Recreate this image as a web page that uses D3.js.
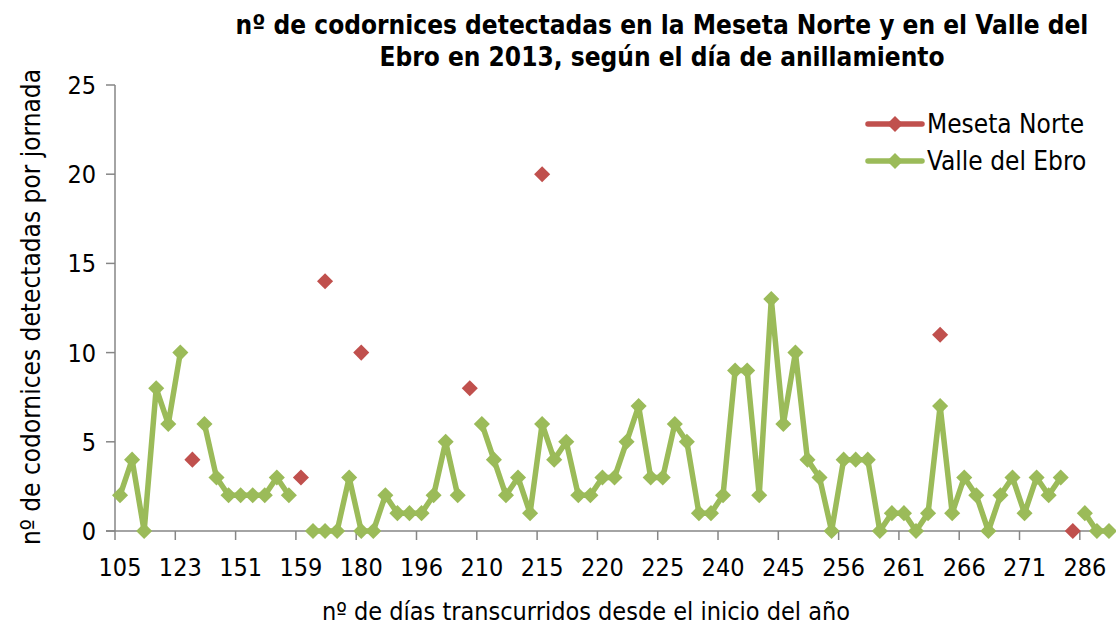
<!DOCTYPE html>
<head>
	<meta charset="utf-8">
	<title>codornices 2013</title>
<style>
	body {
		margin:0;
		background:#ffffff;
		font-family: "DejaVu Sans Condensed", "DejaVu Sans", sans-serif;
	}
	.axis line, .axis path { stroke:#868686; stroke-width:1.5px; fill:none; }
	.ticklab { font-size:25px; fill:#000; }
</style>
</head>
<script src="https://cdn.jsdelivr.net/npm/d3@7"></script>
<body>
<script>
	var width = 1116;
	var height = 630;

	// etiquetas del eje x (una cada 5 jornadas)
	var tickLabels = ["105","123","151","159","180","196","210","215","220","225","240","245","256","261","266","271","286"];

	// Meseta Norte (solo algunas jornadas)
	var meseta = [null,null,null,null,null,null,4,null,null,null,
		null,null,null,null,null,3,null,14,null,null,
		10,null,null,null,null,null,null,null,null,8,
		null,null,null,null,null,20,null,null,null,null,
		null,null,null,null,null,null,null,null,null,null,
		null,null,null,null,null,null,null,null,null,null,
		null,null,null,null,null,null,null,null,11,null,
		null,null,null,null,null,null,null,null,null,0,
		null,null,null];

	// Valle del Ebro
	var ebro = [2,4,0,8,6,10,null,6,3,2,
		2,2,2,3,2,null,0,0,0,3,
		0,0,2,1,1,1,2,5,2,null,
		6,4,2,3,1,6,4,5,2,2,
		3,3,5,7,3,3,6,5,1,1,
		2,9,9,2,13,6,10,4,3,0,
		4,4,4,0,1,1,0,1,7,1,
		3,2,0,2,3,1,3,2,3,null,
		1,0,0];

	var yTicks = [0,5,10,15,20,25];

	var svg = d3.select("body").append("svg")
		.attr("width", width)
		.attr("height", height);

	var x = d3.scaleBand()
		.domain(d3.range(ebro.length))
		.range([114, 1115])
		.padding(0);

	var y = d3.scaleLinear()
		.domain([0, 25])
		.range([531, 85]);

	var cx = function(i) { return x(i) + x.bandwidth() / 2; };

	// eje y
	var yAxis = svg.append("g").attr("class", "axis");
	yAxis.append("line")
		.attr("x1", 115).attr("x2", 115)
		.attr("y1", y(25)).attr("y2", y(0));
	yAxis.selectAll("line.t")
		.data(yTicks)
		.enter().append("line")
		.attr("class", "t")
		.attr("x1", 106).attr("x2", 115)
		.attr("y1", function(d) { return y(d); })
		.attr("y2", function(d) { return y(d); });
	yAxis.selectAll("text")
		.data(yTicks)
		.enter().append("text")
		.attr("class", "ticklab")
		.attr("x", 96)
		.attr("y", function(d) { return y(d); })
		.attr("dy", "0.36em")
		.attr("text-anchor", "end")
		.text(function(d) { return d; });

	// eje x
	var xAxis = svg.append("g").attr("class", "axis");
	xAxis.append("line")
		.attr("x1", 106).attr("x2", 1115)
		.attr("y1", y(0)).attr("y2", y(0));
	var tickIdx = tickLabels.map(function(d, i) { return i * 5; });
	xAxis.selectAll("line.t")
		.data(tickIdx)
		.enter().append("line")
		.attr("class", "t")
		.attr("x1", function(d) { return x(d) + 1; })
		.attr("x2", function(d) { return x(d) + 1; })
		.attr("y1", y(0)).attr("y2", y(0) + 9);
	xAxis.selectAll("text")
		.data(tickIdx)
		.enter().append("text")
		.attr("class", "ticklab")
		.attr("x", function(d) { return cx(d); })
		.attr("y", 576)
		.attr("text-anchor", "middle")
		.text(function(d, i) { return tickLabels[i]; });

	// serie Valle del Ebro
	var line = d3.line()
		.defined(function(d) { return d != null; })
		.x(function(d, i) { return cx(i); })
		.y(function(d) { return y(d); });

	svg.append("path")
		.datum(ebro)
		.attr("d", line)
		.style("fill", "none")
		.style("stroke", "#9bbb59")
		.style("stroke-width", 5.5)
		.style("stroke-linejoin", "round");

	var diamond = d3.symbol().type(d3.symbolDiamond2).size(165);

	svg.append("g").selectAll("path")
		.data(ebro.map(function(d, i) { return {v: d, i: i}; }).filter(function(d) { return d.v != null; }))
		.enter().append("path")
		.attr("d", diamond)
		.attr("transform", function(d) { return "translate(" + cx(d.i) + "," + y(d.v) + ")"; })
		.style("fill", "#9bbb59");

	// serie Meseta Norte
	svg.append("g").selectAll("path")
		.data(meseta.map(function(d, i) { return {v: d, i: i}; }).filter(function(d) { return d.v != null; }))
		.enter().append("path")
		.attr("d", diamond)
		.attr("transform", function(d) { return "translate(" + cx(d.i) + "," + y(d.v) + ")"; })
		.style("fill", "#c0504d");

	// leyenda
	var legend = svg.append("g");
	var series = [{name:"Meseta Norte", color:"#c0504d"}, {name:"Valle del Ebro", color:"#9bbb59"}];
	var lg = legend.selectAll("g")
		.data(series)
		.enter().append("g")
		.attr("transform", function(d, i) { return "translate(0," + (124 + i * 37) + ")"; });
	lg.append("line")
		.attr("x1", 868).attr("x2", 922)
		.style("stroke", function(d) { return d.color; })
		.style("stroke-width", 5.5)
		.style("stroke-linecap", "round");
	lg.append("path")
		.attr("d", diamond)
		.attr("transform", "translate(895,0)")
		.style("fill", function(d) { return d.color; });
	lg.append("text")
		.attr("x", 927)
		.attr("dy", "0.36em")
		.style("font-size", "26px")
		.text(function(d) { return d.name; });

	// titulos
	var title = svg.append("text")
		.attr("text-anchor", "middle")
		.style("font-size", "26px")
		.style("font-weight", "bold");
	title.append("tspan").attr("x", 662).attr("y", 34)
		.text("nº de codornices detectadas en la Meseta Norte y en el Valle del");
	title.append("tspan").attr("x", 662).attr("y", 66)
		.text("Ebro en 2013, según el día de anillamiento");

	svg.append("text")
		.attr("x", 586)
		.attr("y", 620)
		.attr("text-anchor", "middle")
		.style("font-size", "25px")
		.text("nº de días transcurridos desde el inicio del año");

	svg.append("text")
		.attr("transform", "translate(40,307) rotate(-90)")
		.attr("text-anchor", "middle")
		.style("font-size", "26px")
		.text("nº de codornices detectadas por jornada");
</script>
</body>
